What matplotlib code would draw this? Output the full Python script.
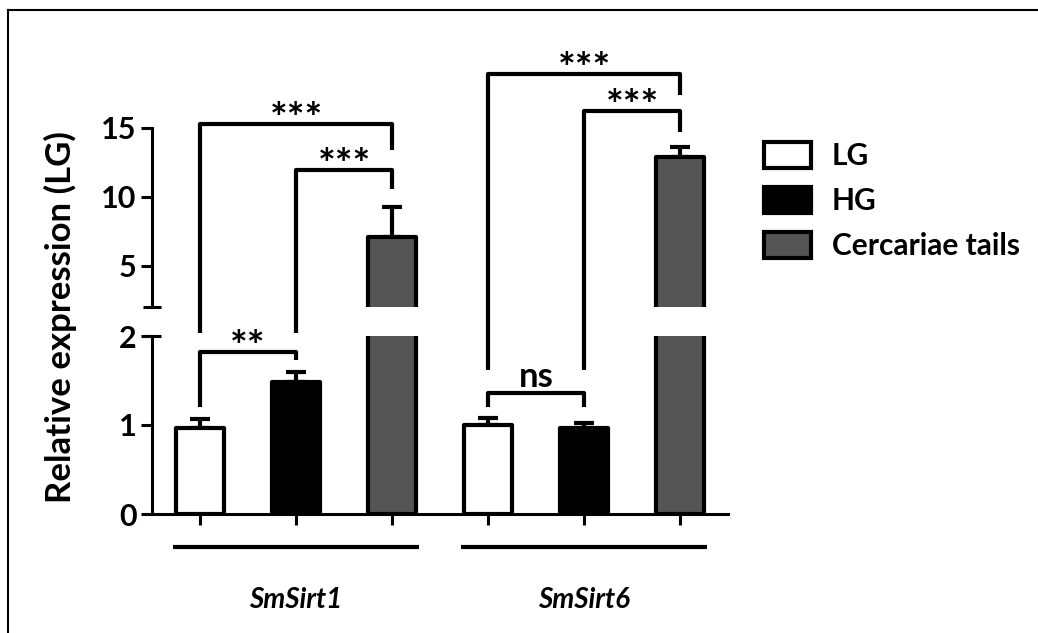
import numpy as np
import matplotlib.pyplot as plt
from matplotlib.patches import Patch
from matplotlib.lines import Line2D

plt.rcParams['font.family'] = ['Lato', 'DejaVu Sans']
plt.rcParams['font.weight'] = 'bold'

genes = ['SmSirt1', 'SmSirt6']
groups = ['LG', 'HG', 'Cercariae tails']
colors = ['white', 'black', '#555555']

sirt1_mean = [0.97, 1.48, 7.1]
sirt1_err = [0.10, 0.12, 2.15]
sirt6_mean = [1.00, 0.97, 12.9]
sirt6_err = [0.08, 0.05, 0.75]

# brackets: (x left, x right, top, left bottom, right bottom, label); each height given as (panel, value)
brackets = [
    (0, 2, ('hi', 15.3), ('lo', 2.03), ('hi', 13.4), '***'),
    (1, 2, ('hi', 11.96), ('lo', 2.03), ('hi', 10.6), '***'),
    (0, 1, ('lo', 1.82), ('lo', 1.2), ('lo', 1.73), '**'),
    (3, 5, ('hi', 18.9), ('lo', 1.62), ('hi', 17.4), '***'),
    (4, 5, ('hi', 16.2), ('lo', 1.62), ('hi', 14.7), '***'),
    (3, 4, ('lo', 1.36), ('lo', 1.2), ('lo', 1.2), 'ns'),
]

means = np.array(sirt1_mean + sirt6_mean)
errs = np.array(sirt1_err + sirt6_err)
x = np.arange(len(means))
bar_colors = colors * 2

W, H = 1038, 633
fig = plt.figure(figsize=(W / 100, H / 100), dpi=100)
ax_lo = fig.add_axes([152 / W, 1 - 514 / H, 576 / W, 178 / H])
ax_hi = fig.add_axes([152 / W, 1 - 307 / H, 576 / W, 179 / H])

lw = 3
for ax in (ax_lo, ax_hi):
    ax.bar(x, means, width=0.5, color=bar_colors, edgecolor='black',
           linewidth=lw, joinstyle='round', zorder=2)
    ax.errorbar(x, means, yerr=[np.zeros_like(errs), errs], fmt='none',
                ecolor='black', elinewidth=lw, capsize=7, capthick=lw, zorder=1)
    ax.set_xlim(-0.5, 5.5)
    for s in ['top', 'right']:
        ax.spines[s].set_visible(False)
    ax.spines['left'].set_linewidth(2.2)
    ax.tick_params(axis='y', direction='out', length=8, width=2.2, pad=3, labelsize=22)

ax_lo.set_ylim(0, 2)
ax_lo.set_yticks([0, 1, 2])
ax_lo.spines['bottom'].set_linewidth(2.2)
ax_lo.set_xticks(x)
ax_lo.set_xticklabels([])
ax_lo.tick_params(axis='x', direction='out', length=8, width=2.2)

ax_hi.set_ylim(2, 15)
ax_hi.set_yticks([5, 10, 15])
ax_hi.spines['bottom'].set_visible(False)
ax_hi.set_xticks([])

# break caps on the y axis
ax_lo.plot([-0.5], [2], marker='_', markersize=13, mew=2.2, color='black', clip_on=False)
ax_hi.plot([-0.5], [2], marker='_', markersize=13, mew=2.2, color='black', clip_on=False)

for lab in ax_lo.get_yticklabels() + ax_hi.get_yticklabels():
    lab.set_fontweight('bold')

# gene group lines and labels
for i, g in enumerate(genes):
    x0, x1 = 3 * i - 0.28, 3 * i + 2.28
    ax_lo.plot([x0, x1], [-0.37, -0.37], color='black', lw=lw, clip_on=False,
               solid_capstyle='butt')
    ax_lo.text(3 * i + 1, -0.97, g, ha='center', va='center', fontsize=20,
               fontstyle='italic', fontweight='bold')

# significance brackets, drawn in figure coordinates across both panels
axes = {'lo': ax_lo, 'hi': ax_hi}
inv = fig.transFigure.inverted()


def to_fig(ax, xv, yv):
    return inv.transform(ax.transData.transform((xv, yv)))


for xl, xr, top, lb, rb, label in brackets:
    p1 = to_fig(axes[lb[0]], xl, lb[1])
    p2 = to_fig(axes[top[0]], xl, top[1])
    p3 = to_fig(axes[top[0]], xr, top[1])
    p4 = to_fig(axes[rb[0]], xr, rb[1])
    pts = np.array([p1, p2, p3, p4])
    fig.add_artist(Line2D(pts[:, 0], pts[:, 1], transform=fig.transFigure,
                          color='black', lw=lw, solid_joinstyle='round',
                          solid_capstyle='butt'))
    if label == 'ns':
        ty, fs = p2[1] + 6 / H, 25
    else:
        ty, fs = p2[1] - 9 / H, 30
    fig.text((p2[0] + p3[0]) / 2, ty, label, ha='center', va='baseline',
             fontsize=fs, fontweight='bold')

fig.text(60 / W, 1 - 317 / H, 'Relative expression (LG)', rotation=90,
         ha='center', va='center', fontsize=25, fontweight='bold')

handles = [Patch(facecolor=c, edgecolor='black', linewidth=lw) for c in colors]
fig.legend(handles, groups, loc='upper left', bbox_to_anchor=(764 / W, 1 - 142 / H),
           frameon=False, fontsize=21.5, handlelength=1.57, handleheight=0.94,
           handletextpad=0.7, labelspacing=0.57, borderpad=0, borderaxespad=0)

# partial frame seen at the top and left of the picture
fig.add_artist(Line2D([8 / W, 8 / W], [0, 1 - 10 / H], transform=fig.transFigure,
                      color='black', lw=1.5))
fig.add_artist(Line2D([8 / W, 1], [1 - 10 / H, 1 - 10 / H], transform=fig.transFigure,
                      color='black', lw=1.5))

fig.savefig('out.png', dpi=100)
